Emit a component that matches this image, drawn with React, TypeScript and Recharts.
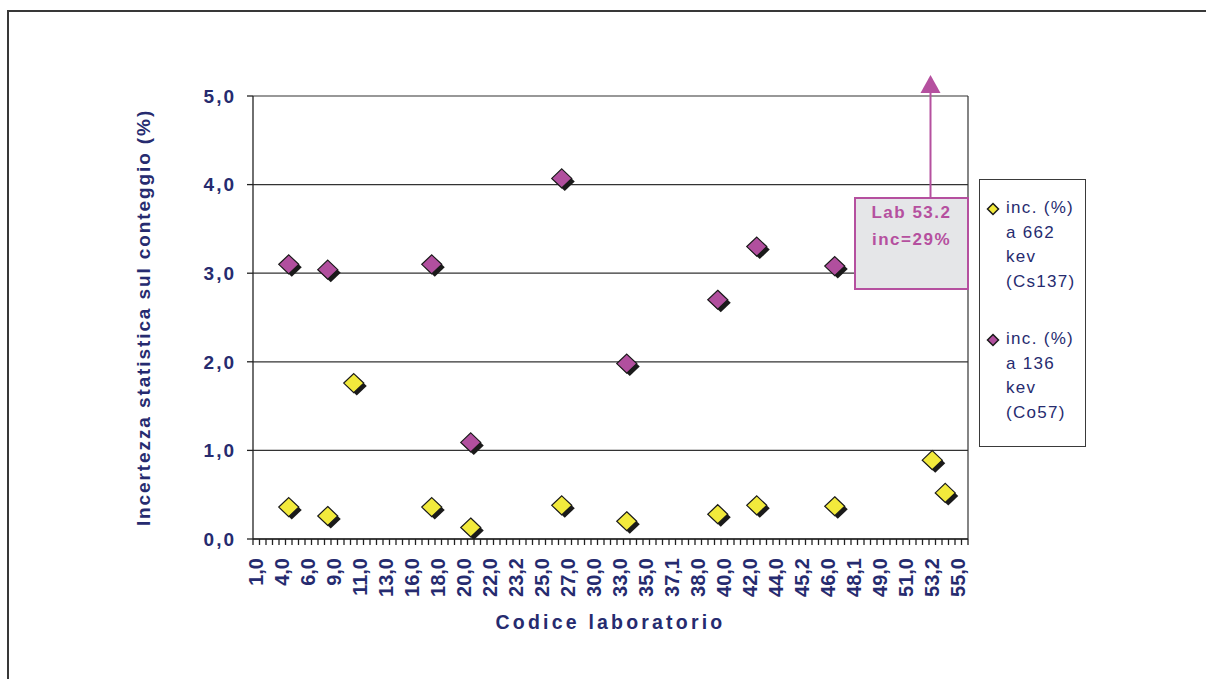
import { ScatterChart, Scatter, XAxis, YAxis, CartesianGrid, ReferenceLine } from "recharts"

// tick labels shown under every 4th laboratory
const tickLabels = [
  "1,0", "4,0", "6,0", "9,0", "11,0", "13,0", "16,0", "18,0", "20,0", "22,0",
  "23,2", "25,0", "27,0", "30,0", "33,0", "35,0", "37,1", "38,0", "40,0", "42,0",
  "44,0", "45,2", "46,0", "48,1", "49,0", "51,0", "53,2", "55,0",
]
const labCount = 110

// inc. (%) a 662 kev (Cs137)
const csLab = [5, 11, 15, 27, 33, 47, 57, 71, 77, 89, 104, 106]
const csValues = [0.36, 0.26, 1.76, 0.36, 0.13, 0.38, 0.2, 0.28, 0.38, 0.37, 0.89, 0.52]

// inc. (%) a 136 kev (Co57) - lab 53.2 is off the scale (29%)
const coLab = [5, 11, 27, 33, 47, 57, 71, 77, 89, 104]
const coValues = [3.1, 3.04, 3.1, 1.09, 4.07, 1.98, 2.7, 3.3, 3.08, 29]

const yTicks = [0, 1, 2, 3, 4, 5]

const NAVY = "#262b6f"
const PINK = "#b5509f"
const YELLOW = "#f2ea3c"
const PURPLE = "#b14f9e"
const FONT = "'Liberation Sans', Arial, sans-serif"

const csData = csLab.map((lab, i) => ({ x: lab + 0.5, y: csValues[i] }))
const coData = coLab.map((lab, i) => ({ x: lab + 0.5, y: coValues[i] }))
const markTicks = Array.from({ length: labCount + 1 }, (_, i) => i)

function diamond(cx: number, cy: number, hw: number, hh: number) {
  return `M${cx},${cy - hh}L${cx + hw},${cy}L${cx},${cy + hh}L${cx - hw},${cy}Z`
}

function Marker(props: any) {
  const { cx, cy, fill } = props
  if (cx == null || cy == null) return null
  return (
    <g>
      <path d={diamond(cx + 3, cy + 3, 10, 9.5)} fill="#1a1a1a" />
      <path d={diamond(cx, cy, 10, 9.5)} fill={fill} stroke="#1a1a1a" strokeWidth={1.2} />
    </g>
  )
}

// ticks sit on lab boundaries, labels in the middle of every 4th lab
function LabTick(props: any) {
  const { x, y, payload, width } = props
  const v = payload.value
  if (v % 4 !== 0 || v / 4 >= tickLabels.length) return <g />
  const band = (width || 715) / labCount
  const tx = x + band / 2
  const ty = y + 13
  return (
    <text
      x={tx}
      y={ty}
      transform={`rotate(-90 ${tx} ${ty})`}
      textAnchor="end"
      dominantBaseline="central"
      fill={NAVY}
      fontSize={20}
      fontWeight="bold"
      fontFamily={FONT}
    >
      {tickLabels[v / 4]}
    </text>
  )
}

const legendItems = [
  { color: YELLOW, lines: ["inc. (%)", "a 662", "kev", "(Cs137)"] },
  { color: PURPLE, lines: ["inc. (%)", "a 136", "kev", "(Co57)"] },
]

export default function App() {
  return (
    <div style={{ position: "absolute", left: 0, top: 0, width: 1206, height: 679, overflow: "hidden", background: "#fff" }}>
      <div
        style={{
          position: "absolute",
          left: 7,
          top: 10,
          width: 1199,
          height: 669,
          borderTop: "2px solid #383838",
          borderLeft: "2px solid #383838",
          boxSizing: "border-box",
        }}
      />
      <div style={{ position: "absolute", left: 0, top: 0 }}>
        <ScatterChart width={1206} height={679} margin={{ top: 96, right: 238, bottom: 0, left: 0 }}>
          <CartesianGrid vertical={false} stroke="#333" strokeWidth={1.2} />
          <XAxis
            type="number"
            dataKey="x"
            domain={[0, labCount]}
            ticks={markTicks}
            interval={0}
            height={140}
            tickSize={6}
            tickMargin={0}
            stroke="#222"
            strokeWidth={1.3}
            tick={<LabTick />}
            label={{
              value: "Codice laboratorio",
              position: "insideBottom",
              offset: 50,
              style: { fill: NAVY, fontSize: 19.5, fontWeight: "bold", fontFamily: FONT, letterSpacing: 3.2 },
            }}
          />
          <YAxis
            type="number"
            dataKey="y"
            domain={[0, 5]}
            ticks={yTicks}
            allowDataOverflow
            width={253}
            tickSize={6}
            tickMargin={11}
            stroke="#222"
            strokeWidth={1.3}
            tickFormatter={(v: number) => v.toFixed(1).replace(".", ",")}
            tick={{ fill: NAVY, fontSize: 19, fontWeight: "bold", fontFamily: FONT, letterSpacing: 2 }}
            label={{
              value: "Incertezza statistica sul conteggio (%)",
              angle: -90,
              position: "insideLeft",
              offset: 143,
              style: { fill: NAVY, fontSize: 19, fontWeight: "bold", fontFamily: FONT, letterSpacing: 1.9, textAnchor: "middle" },
            }}
          />
          <ReferenceLine x={labCount} stroke="#333" strokeWidth={1.2} />
          <Scatter name="Cs137" data={csData} fill={YELLOW} shape={<Marker />} isAnimationActive={false} />
          <Scatter name="Co57" data={coData} fill={PURPLE} shape={<Marker />} isAnimationActive={false} />
        </ScatterChart>
      </div>

      {/* annotation for the off-scale point of lab 53.2 */}
      <svg style={{ position: "absolute", left: 0, top: 0 }} width={1206} height={679}>
        <line x1={930.5} y1={198} x2={930.5} y2={90} stroke={PINK} strokeWidth={2} />
        <path d="M930.5,75L940.5,93L920.5,93Z" fill={PINK} />
      </svg>
      <div
        style={{
          position: "absolute",
          left: 854,
          top: 197,
          width: 115,
          height: 93,
          boxSizing: "border-box",
          border: `2px solid ${PINK}`,
          background: "#e5e6e8",
          color: PINK,
          fontFamily: FONT,
          fontWeight: "bold",
          fontSize: 17,
          letterSpacing: 1.5,
          textAlign: "center",
          lineHeight: "27px",
        }}
      >
        <div>Lab 53.2</div>
        <div>inc=29%</div>
      </div>

      {/* legend */}
      <div
        style={{
          position: "absolute",
          left: 979,
          top: 179,
          width: 107,
          height: 268,
          boxSizing: "border-box",
          border: "1.5px solid #3a3a3a",
          background: "#fff",
          fontFamily: FONT,
          fontSize: 17,
          letterSpacing: 1.3,
          color: NAVY,
        }}
      >
        {legendItems.map((item, k) => (
          <div key={k} style={{ position: "absolute", left: 0, top: 16 + k * 131 }}>
            <svg style={{ position: "absolute", left: 6, top: 6 }} width={14} height={14}>
              <path d={diamond(7, 7, 5.5, 5.5)} fill={item.color} stroke="#1a1a1a" strokeWidth={1.5} />
            </svg>
            <div style={{ position: "absolute", left: 26, top: 0, lineHeight: "24.5px", whiteSpace: "nowrap" }}>
              {item.lines.map((l, j) => (
                <div key={j}>{l}</div>
              ))}
            </div>
          </div>
        ))}
      </div>
    </div>
  )
}
